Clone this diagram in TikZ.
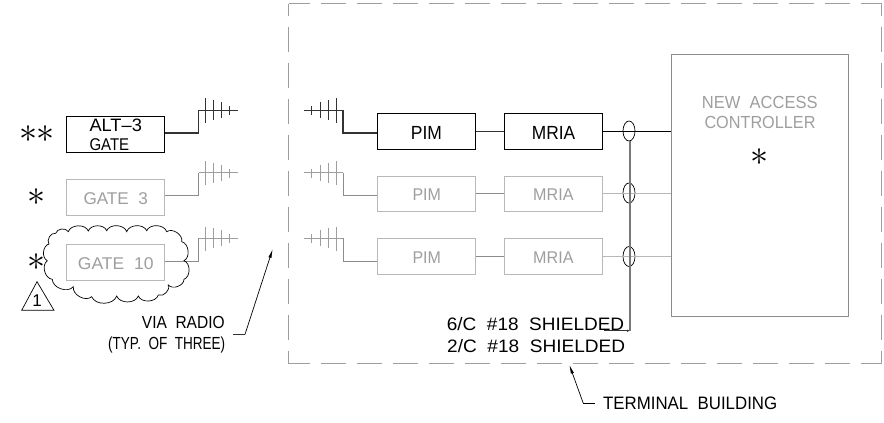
\documentclass[tikz,border=0pt]{standalone}
\usepackage{fontspec}
\usepackage{graphicx}
\setmainfont{Liberation Sans}
\usetikzlibrary{shapes.geometric,arrows.meta}
\definecolor{lgray}{gray}{0.72}
\definecolor{mgray}{gray}{0.55}
\definecolor{dgray}{gray}{0.2}
\definecolor{bgray}{gray}{0.47}
\definecolor{tgray}{gray}{0.62}
\definecolor{dashc}{gray}{0.62}
\newcommand\lbl[7]{\node[txt,#1,font=\fontsize{#6}{#6}\selectfont] (#2) at (#3,#4) {\resizebox{#5pt}{\height}{#7}};}
\newcommand\bigast{\scalebox{1.45}{$\ast$}}
\tikzset{
  x=1pt,y=-1pt,
  txt/.style={inner sep=0pt,anchor=base west,text=black},
  gtxt/.style={text=tgray},
  boxb/.style={draw=black,line width=0.9pt,inner sep=0pt,minimum width=#1,minimum height=36pt},
  boxg/.style={draw=lgray,line width=0.9pt,inner sep=0pt,minimum width=#1,minimum height=36pt},
  oval/.style={ellipse,draw=black,line width=0.7pt,inner sep=0pt,minimum width=12pt,minimum height=20pt},
  wire/.style={line width=#1,line join=miter},
  star/.style={inner sep=0pt,text=black,font=\Huge},
  side/.style={draw=dashc,line width=0.9pt,dash pattern=on 25pt off 11pt,dash phase=#1},
  leader/.style={draw=black,line width=0.7pt,-{Latex[length=9pt,width=3.2pt]}},
}
\begin{document}
\begin{tikzpicture}
\useasboundingbox (0,0) rectangle (884,423);
% terminal building
\coordinate (tl) at (288.5,3.5);
\coordinate (tr) at (881.5,3.5);
\coordinate (bl) at (288.5,363.5);
\coordinate (br) at (881.5,363.5);
\draw[side=4pt] (tl) -- (tr);
\draw[side=4pt] (bl) -- (br);
\draw[side=13pt] (tl) -- (bl);
\draw[side=13pt] (tr) -- (br);
% gates
\node[boxb=97.5pt] (g1) at (115.3,134.7) {};
\node[boxg=97.5pt] (g2) at (115.3,197) {};
\node[boxg=97.5pt] (g3) at (115.3,262.3) {};
\lbl{}{tg1a}{89.3}{131.3}{52.4}{18}{ALT--3}
\lbl{}{tg1b}{89.3}{150.7}{39.7}{17}{GATE}
\lbl{gtxt}{tg2}{83.3}{204}{64.4}{17}{GATE~~3}
\lbl{gtxt}{tg3}{77.7}{269}{75.6}{17}{GATE~~10}
% PIM, MRIA
\node[boxb=97.7pt] (p1) at (426.2,131.4) {};
\node[boxb=98pt] (m1) at (553.7,131.4) {};
\node[boxg=97.7pt,minimum height=35.3pt] (p2) at (426.2,193.6) {};
\node[boxg=98pt,minimum height=35.3pt] (m2) at (553.7,193.6) {};
\node[boxg=97.7pt,minimum height=35.7pt] (p3) at (426.2,256.2) {};
\node[boxg=98pt,minimum height=35.7pt] (m3) at (553.7,256.2) {};
\lbl{}{tp1}{410.7}{139}{31}{19}{PIM}
\lbl{}{tm1}{531.7}{139}{43.3}{19}{MRIA}
\lbl{gtxt}{tp2}{412.3}{200.7}{28.4}{17}{PIM}
\lbl{gtxt}{tm2}{533}{200.7}{40.3}{17}{MRIA}
\lbl{gtxt}{tp3}{412.3}{263.3}{28.4}{17}{PIM}
\lbl{gtxt}{tm3}{533}{263.3}{40.3}{17}{MRIA}
% controller
\node[draw=mgray,line width=0.9pt,inner sep=0pt,minimum width=176.6pt,minimum height=262pt] (ctrl) at (760,185.3) {};
\lbl{gtxt}{tc1}{701.7}{108.3}{115.7}{17.5}{NEW~~ACCESS}
\lbl{gtxt}{tc2}{704.3}{128.7}{111}{17.5}{CONTROLLER}
\node[star] (sc) at (759.7,157) {\bigast};
% stars
\node[star] (s1) at (37,134) {\bigast\kern-0.5pt\bigast};
\node[star] (s2) at (36.7,196.7) {\bigast};
\node[star] (s3) at (36.7,262.3) {\bigast};
% gate to antenna
\foreach \n/\yb/\yt/\c/\t/\w in {1/133/110/dgray/dgray/1.2pt,2/195/172.7/mgray/tgray/0.8pt,3/261.3/238.3/mgray/tgray/0.8pt}{
  \coordinate (ga\n) at (164,\yb);
  \coordinate (gb\n) at (198.5,\yb);
  \coordinate (gt\n) at (198.5,\yt);
  \coordinate (ge\n) at (237.7,\yt);
  \draw[wire=\w,draw=\c] (g\n.east|-ga\n) -- (gb\n) -- (gt\n);
  \draw[wire=0.8pt,draw=\t] (gt\n) -- (ge\n);
  \foreach \xx/\u/\v in {205/11.7/12.7,213.7/10/10,221.7/8/8,229.7/4/5}{
    \draw[wire=0.9pt,draw=\t] (\xx,\yt-\u) -- (\xx,\yt+\v);
  }
  \coordinate (pa\n) at (377.3,\yb);
  \coordinate (pb\n) at (343,\yb);
  \coordinate (pt\n) at (343,\yt);
  \coordinate (pe\n) at (304,\yt);
  \draw[wire=\w,draw=\c] (p\n.west|-pa\n) -- (pb\n) -- (pt\n);
  \draw[wire=0.8pt,draw=\t] (pt\n) -- (pe\n);
  \foreach \xx/\u/\v in {336.7/11.7/12.7,328/10/10,320/8/8,311/4/5}{
    \draw[wire=0.9pt,draw=\t] (\xx,\yt-\u) -- (\xx,\yt+\v);
  }
}
% links
\draw[wire=1.2pt,draw=dgray] (p1.east) -- (m1.west);
\draw[wire=0.9pt,draw=mgray] (p2.east) -- (m2.west);
\draw[wire=0.9pt,draw=mgray] (p3.east) -- (m3.west);
% ovals, bus
\node[oval] (o1) at (629,131) {};
\node[oval] (o2) at (629,193) {};
\node[oval] (o3) at (629,256.5) {};
\draw[wire=0.8pt,draw=black] (m1.east) -- (m1.east-|ctrl.west);
\draw[wire=0.9pt,draw=lgray] (m2.east) -- (m2.east-|ctrl.west);
\draw[wire=0.9pt,draw=lgray] (m3.east) -- (m3.east-|ctrl.west);
\coordinate (busb) at (630,330.7);
\coordinate (bust) at (630,141);
\draw[wire=1.2pt,draw=bgray] (bust) -- (busb);
\coordinate (bus6) at (604,330.7);
\draw[draw=dgray,line width=0.8pt,-{Latex[length=3pt,width=2.5pt]}] (bus6) -- (busb);
% cloud
\draw[draw=black,line width=0.7pt]
 (47.3,260.7) to[bend left=70] (49,244) to[bend left=70] (55.7,233.3)
 to[bend left=70] (68.3,231.7) to[bend left=70] (88.3,231) to[bend left=70] (106.7,230.7)
 to[bend left=70] (126.7,231.7) to[bend left=70] (146.7,230.7) to[bend left=70] (166.7,231.7)
 to[bend left=70] (181.7,241.7) to[bend left=70] (184,260.7) to[bend left=70] (184,279.3)
 to[bend left=70] (168.3,285) to[bend left=70] (158.3,295) to[bend left=70] (138.3,296)
 to[bend left=70] (116.7,296) to[bend left=70] (91.7,296.7) to[bend left=70] (73.3,286.7)
 to[bend left=70] (52.3,279.3) to[bend left=70] (47.3,260.7);
% revision triangle
\draw[draw=black,line width=0.7pt] (37,281.7) -- (54,310.3) -- (21.7,310.3) -- cycle;
\node[inner sep=0pt,font=\fontsize{17}{17}\selectfont] (rev) at (37,301) {1};
% notes
\lbl{}{tv1}{141.7}{328.3}{82.8}{17.5}{VIA~~RADIO}
\lbl{}{tv2}{108}{349.5}{117}{17.5}{(TYP.~~OF~~THREE)}
\lbl{}{tc6}{446.7}{330.5}{177.3}{18}{6/C~~\#18~~SHIELDED}
\lbl{}{tc62}{447}{352.7}{178}{18}{2/C~~\#18~~SHIELDED}
\lbl{}{tb}{603}{409}{174}{18}{TERMINAL~~BUILDING}
\coordinate (va) at (233.3,334.4);
\coordinate (vb) at (245,334.4);
\coordinate (vt) at (272.7,249);
\draw[wire=1pt,draw=dgray] (va) -- (vb);
\draw[leader] (vb) -- (vt);
\coordinate (ta) at (595,403.3);
\coordinate (tb2) at (583.3,403.3);
\coordinate (tt) at (569.3,364.7);
\draw[wire=0.8pt,draw=black] (ta) -- (tb2);
\draw[leader] (tb2) -- (tt);
\end{tikzpicture}
\end{document}
